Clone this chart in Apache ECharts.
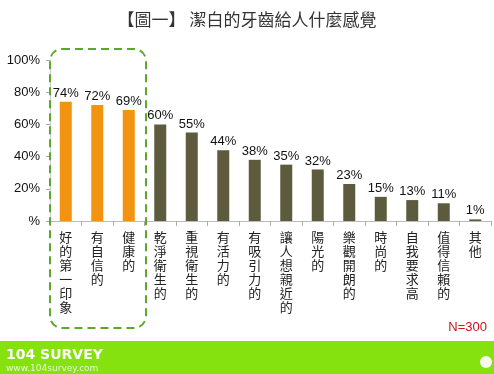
<!DOCTYPE html>
<html><head><meta charset="utf-8">
<script src="https://cdn.jsdelivr.net/npm/echarts@6/dist/echarts.min.js"></script>
<style>html,body{margin:0;padding:0;background:#fff}#c{width:494px;height:374px}</style>
</head><body><div id="c"></div>
<script>
const categories = ['好的第一印象','有自信的','健康的','乾淨衛生的','重視衛生的','有活力的','有吸引力的','讓人想親近的','陽光的','樂觀開朗的','時尚的','自我要求高','值得信賴的','其他'];
const values = [74,72,69,60,55,44,38,35,32,23,15,13,11,1];
const highlightCount = 3;
const yTicks = [0,20,40,60,80,100];

const chart = echarts.init(document.getElementById('c'));
const font = '"Noto Sans CJK TC","Noto Sans",Arial,sans-serif';
chart.setOption({
  animation:false,
  title:{text:'【圖一】 潔白的牙齒給人什麼感覺',left:'center',top:6,textStyle:{fontSize:17,fontWeight:'normal',color:'#333',fontFamily:font}},
  grid:{left:50,right:3,top:60,bottom:153},
  xAxis:{type:'category',data:categories,
    axisLine:{lineStyle:{color:'#bbb'}},
    axisTick:{show:true,length:5,lineStyle:{color:'#aaa'}},
    axisLabel:{interval:0,color:'#222',fontSize:13,fontFamily:font,lineHeight:14,verticalAlign:'top',margin:9,
      formatter:v=>v.split('').join('\n')}},
  yAxis:{type:'value',min:0,max:100,interval:20,
    axisLine:{show:true,lineStyle:{color:'#ccc'}},
    axisTick:{show:true,length:4,lineStyle:{color:'#aaa'}},
    splitLine:{show:false},
    axisLabel:{color:'#111',fontSize:13,fontFamily:'"Liberation Sans", Arial, sans-serif',margin:10,
      formatter:v=>v===0?'%':v+'%'}},
  series:[{type:'bar',barWidth:12,
    data:values.map((v,i)=>({value:v,itemStyle:{color:i<highlightCount?'#F39312':'#5D5B3D'}})),
    label:{show:true,position:'top',distance:2,color:'#111',fontSize:13,fontFamily:'"Liberation Sans", Arial, sans-serif',formatter:p=>p.value+'%'}}],
  graphic:[
    {type:'rect',shape:{x:50,y:49,width:96,height:279,r:12},style:{fill:'none',stroke:'#5CA82A',lineWidth:2,lineDash:[8,5]},z:10},
    {type:'rect',shape:{x:0,y:341,width:494,height:33},style:{fill:'#86E20F'}},
    {type:'text',left:6,top:348,style:{text:'104 SURVEY',fill:'#fff',font:'bold 14px "DejaVu Sans", sans-serif'}},
    {type:'text',left:6,top:364,style:{text:'www.104survey.com',fill:'#e8f8d0',font:'9px "DejaVu Sans", sans-serif'}},
    {type:'circle',shape:{cx:486,cy:362,r:6},style:{fill:'#f8f8f0'}},
    {type:'text',right:7,top:321,style:{text:'N=300',fill:'#D0101A',font:'13px "Liberation Sans", Arial, sans-serif'}}
  ]
});
</script></body></html>
